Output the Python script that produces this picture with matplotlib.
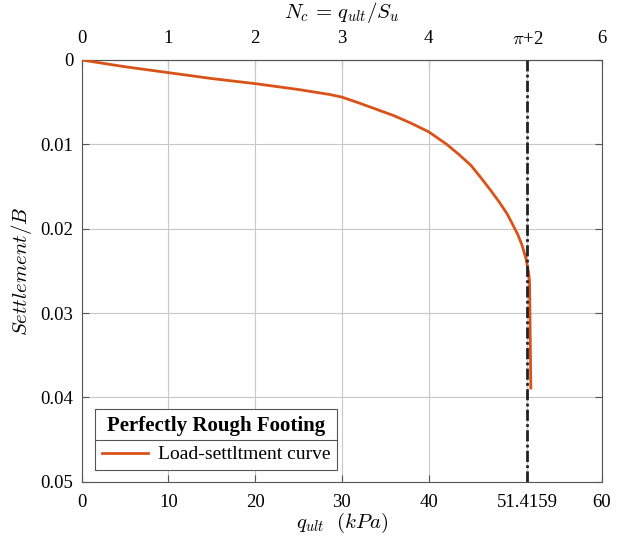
import numpy as np
import matplotlib
matplotlib.use("Agg")
import matplotlib.pyplot as plt
from matplotlib.lines import Line2D

# load-settlement curve
q_ult = [0, 5, 10, 15, 20, 25, 28.65, 30, 32, 34.4, 36, 38, 40, 42.1, 43.5, 44.9, 46,
         47.2, 48.2, 49.1, 49.7, 50.3, 50.8, 51.2, 51.4, 51.55, 51.65, 51.7, 51.8]
settlement = [0, 0.0008, 0.0015, 0.0022, 0.0028, 0.0035, 0.0041, 0.0044, 0.0051, 0.0060,
              0.0066, 0.0075, 0.0085, 0.0100, 0.0112, 0.0125, 0.0139, 0.0155, 0.0169,
              0.0183, 0.0195, 0.0207, 0.0220, 0.0234, 0.0244, 0.0252, 0.0262, 0.0300,
              0.0389]
q_limit = 51.4159
x_ticks = [0, 10, 20, 30, 40, q_limit, 60]
x_labels = ["0", "10", "20", "30", "40", "51.4159", "60"]
nc_ticks = [0, 1, 2, 3, 4, np.pi + 2, 6]
nc_labels = ["0", "1", "2", "3", "4", r"$\pi$+2", "6"]
y_ticks = [0, 0.01, 0.02, 0.03, 0.04, 0.05]
y_labels = ["0", "0.01", "0.02", "0.03", "0.04", "0.05"]

plt.rcParams["font.family"] = ["Liberation Serif", "DejaVu Serif"]
plt.rcParams["mathtext.fontset"] = "cm"
plt.rcParams["font.size"] = 13.5

fig = plt.figure(figsize=(6.27, 5.42), dpi=100)
ax = fig.add_axes([0.1303, 0.1113, 0.8297, 0.778])

ax.plot(q_ult, settlement, color="#D95319", lw=2.0, label="Load-settltment curve", zorder=3)
ax.axvline(q_limit, color="#222222", lw=2.0, ls=(0, (4, 1.2, 1, 1.2)), zorder=4)

ax.set_xlim(0, 60)
ax.set_ylim(0.05, 0)
ax.set_xticks(x_ticks)
ax.set_xticklabels(x_labels)
ax.set_yticks(y_ticks)
ax.set_yticklabels(y_labels)
ax.grid(True, color="#c8c8c8", lw=0.8)
ax.tick_params(direction="in", top=False, right=True, length=5, color="#555555")
ax.tick_params(axis="x", pad=9)
ax.tick_params(axis="y", pad=6)
for s in ax.spines.values():
    s.set_color("#555555")
    s.set_linewidth(0.8)

ax.set_xlabel(r"$q_{ult}\ \ (kPa)$", fontsize=15, labelpad=0)
ax.set_ylabel(r"$Settlement/B$", fontsize=15, labelpad=5)

top = ax.secondary_xaxis("top", functions=(lambda x: x / 10, lambda x: x * 10))
top.set_xticks(nc_ticks)
top.set_xticklabels(nc_labels)
top.tick_params(direction="in", length=5, color="#555555", pad=9)
top.spines["top"].set_color("#555555")
top.set_xlabel(r"$N_c\,=\,q_{ult}/S_u$", fontsize=15, labelpad=9)

leg = ax.legend(loc="lower left", bbox_to_anchor=(0.025, 0.027), borderaxespad=0,
                title="Perfectly Rough Footing", title_fontproperties={"weight": "bold", "size": 15},
                fancybox=False, edgecolor="#555555", framealpha=1, handlelength=2.4,
                fontsize=14, borderpad=0.35, handletextpad=0.5)
leg.get_frame().set_linewidth(0.8)

# separator line between legend title and entries
fig.canvas.draw()
r = fig.canvas.get_renderer()
fb = leg.get_frame().get_window_extent(r)
tb = leg.get_title().get_window_extent(r)
ysep = tb.y0 - 4
inv = fig.transFigure.inverted()
(x0, y0), (x1, _) = inv.transform([(fb.x0, ysep), (fb.x1, ysep)])
fig.add_artist(Line2D([x0, x1], [y0, y0], color="#555555", lw=0.8, transform=fig.transFigure))

fig.savefig("out.png", dpi=100)
